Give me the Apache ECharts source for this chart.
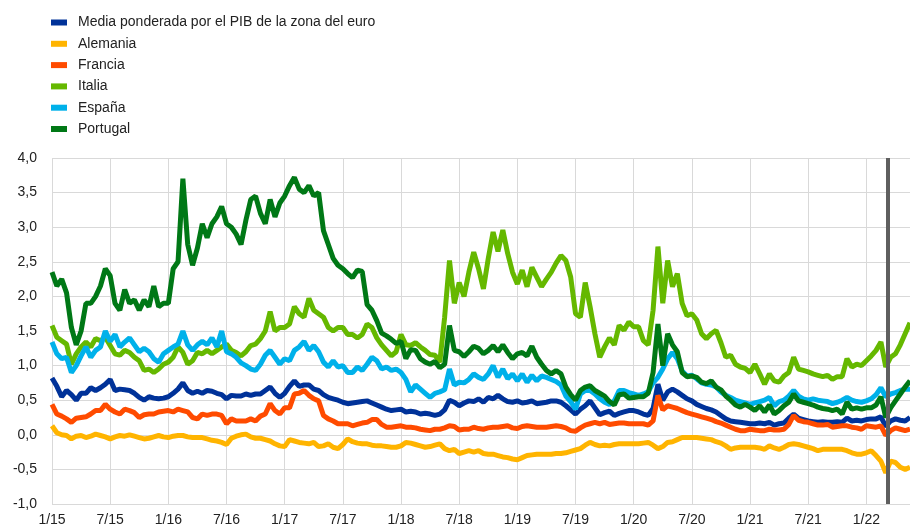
<!DOCTYPE html>
<html>
<head>
<meta charset="utf-8">
<script src="https://cdn.jsdelivr.net/npm/echarts@6/dist/echarts.min.js"></script>
<style>
  html, body { margin: 0; padding: 0; background: #fff; }
  #chart { width: 910px; height: 529px; }
</style>
</head>
<body>
<div id="chart"></div>
<script>
// fechas quincenales, 1/15 - mediados de 5/22
var dates = [];
for (var y = 2015; y <= 2022; y++) {
    for (var mo = 1; mo <= 12; mo++) {
        [1, 16].forEach(function(d) {
            var s = y + '-' + (mo < 10 ? '0' + mo : mo) + '-' + (d < 10 ? '0' + d : d);
            if (s <= '2022-05-16') dates.push(s);
        });
    }
}
var markerDate = '2022-03-08'; // linea vertical

var names = ['Media ponderada por el PIB de la zona del euro', 'Alemania', 'Francia', 'Italia', 'España', 'Portugal'];
var colors = ['#003299', '#FFB400', '#FF4B00', '#65B800', '#00B1EA', '#007816'];

var media = [
    0.82, 0.7, 0.55, 0.64, 0.58, 0.5, 0.6, 0.6, 0.68, 0.64, 0.68, 0.73, 0.8, 0.64, 0.66, 0.65, 0.64, 0.6, 0.54, 0.5, 0.55, 0.53, 0.52, 0.53,
    0.55, 0.6, 0.66, 0.75, 0.64, 0.6, 0.63, 0.6, 0.64, 0.63, 0.6, 0.58, 0.52, 0.57, 0.56, 0.56, 0.59, 0.57, 0.59, 0.59, 0.64, 0.69, 0.6, 0.54,
    0.6, 0.7, 0.78, 0.7, 0.72, 0.72, 0.66, 0.64, 0.58, 0.54, 0.52, 0.5, 0.47, 0.45, 0.46, 0.47, 0.48, 0.49, 0.46, 0.43, 0.4, 0.37, 0.35, 0.36,
    0.37, 0.33, 0.34, 0.33, 0.3, 0.31, 0.3, 0.28, 0.3, 0.36, 0.5, 0.47, 0.42, 0.46, 0.49, 0.48, 0.52, 0.47, 0.54, 0.52, 0.57, 0.52, 0.48, 0.47,
    0.49, 0.46, 0.47, 0.49, 0.45, 0.46, 0.47, 0.49, 0.49, 0.47, 0.42, 0.36, 0.3, 0.37, 0.42, 0.49, 0.39, 0.29, 0.32, 0.34, 0.28, 0.31, 0.33, 0.35,
    0.35, 0.33, 0.3, 0.28, 0.38, 0.73, 0.5, 0.62, 0.66, 0.62, 0.57, 0.52, 0.49, 0.44, 0.41, 0.38, 0.36, 0.33, 0.28, 0.23, 0.2, 0.19, 0.18, 0.17,
    0.16, 0.16, 0.17, 0.16, 0.18, 0.14, 0.16, 0.17, 0.24, 0.3, 0.24, 0.22, 0.2, 0.19, 0.18, 0.19, 0.18, 0.18, 0.19, 0.18, 0.24, 0.2, 0.21, 0.2,
    0.22, 0.23, 0.23, 0.26, 0.12, 0.2, 0.23, 0.21, 0.2, 0.25
];
var alemania = [
    0.13, 0.03, 0.0, -0.01, -0.06, -0.02, -0.01, -0.04, -0.02, 0.01, -0.01, -0.03, -0.06, -0.03, -0.01, -0.02, 0.0, -0.02, -0.04, -0.06, -0.05, -0.03, -0.01, -0.03,
    -0.04, -0.02, -0.01, -0.01, -0.03, -0.04, -0.04, -0.04, -0.06, -0.08, -0.09, -0.11, -0.14, -0.05, -0.02, 0.0, 0.01, -0.03, -0.05, -0.05, -0.07, -0.09, -0.13, -0.16,
    -0.17, -0.07, -0.09, -0.11, -0.12, -0.13, -0.11, -0.17, -0.16, -0.13, -0.18, -0.2, -0.14, -0.06, -0.1, -0.12, -0.13, -0.13, -0.15, -0.16, -0.16, -0.17, -0.18, -0.18,
    -0.16, -0.11, -0.12, -0.14, -0.16, -0.18, -0.17, -0.15, -0.13, -0.2, -0.23, -0.21, -0.27, -0.25, -0.23, -0.25, -0.23, -0.27, -0.28, -0.28, -0.3, -0.32, -0.33, -0.35,
    -0.36, -0.33, -0.3, -0.29, -0.28, -0.28, -0.28, -0.28, -0.27, -0.27, -0.26, -0.24, -0.22, -0.2, -0.15, -0.11, -0.14, -0.16, -0.15, -0.16, -0.14, -0.13, -0.13, -0.13,
    -0.13, -0.13, -0.12, -0.11, -0.15, -0.2, -0.17, -0.11, -0.1, -0.07, -0.04, -0.04, -0.04, -0.04, -0.05, -0.06, -0.07, -0.1, -0.12, -0.16, -0.21, -0.19, -0.18, -0.18,
    -0.18, -0.18, -0.19, -0.21, -0.16, -0.19, -0.21, -0.18, -0.14, -0.13, -0.14, -0.16, -0.18, -0.2, -0.23, -0.21, -0.21, -0.21, -0.21, -0.21, -0.23, -0.26, -0.28, -0.28,
    -0.26, -0.23, -0.3, -0.38, -0.55, -0.38, -0.4, -0.47, -0.5, -0.47
];
var francia = [
    0.44, 0.3, 0.27, 0.23, 0.18, 0.24, 0.25, 0.26, 0.3, 0.35, 0.35, 0.44, 0.37, 0.33, 0.3, 0.37, 0.35, 0.32, 0.25, 0.29, 0.3, 0.3, 0.33, 0.34,
    0.35, 0.33, 0.37, 0.35, 0.33, 0.25, 0.23, 0.3, 0.28, 0.3, 0.3, 0.28, 0.16, 0.23, 0.2, 0.2, 0.2, 0.23, 0.2, 0.27, 0.3, 0.45, 0.35, 0.3,
    0.39, 0.39, 0.59, 0.6, 0.64, 0.57, 0.52, 0.49, 0.28, 0.23, 0.2, 0.16, 0.16, 0.16, 0.13, 0.15, 0.17, 0.18, 0.22, 0.22, 0.15, 0.11, 0.11, 0.12,
    0.13, 0.11, 0.11, 0.1, 0.08, 0.07, 0.06, 0.08, 0.08, 0.1, 0.13, 0.12, 0.07, 0.08, 0.08, 0.11, 0.09, 0.08, 0.1, 0.11, 0.11, 0.12, 0.13, 0.1,
    0.09, 0.12, 0.13, 0.12, 0.11, 0.11, 0.11, 0.12, 0.13, 0.12, 0.1, 0.06, 0.05, 0.1, 0.14, 0.16, 0.18, 0.16, 0.18, 0.15, 0.16, 0.17, 0.17, 0.16,
    0.16, 0.16, 0.16, 0.14, 0.2, 0.57, 0.36, 0.42, 0.4, 0.38, 0.35, 0.32, 0.3, 0.28, 0.26, 0.24, 0.22, 0.19, 0.17, 0.14, 0.11, 0.08, 0.06, 0.06,
    0.08, 0.07, 0.06, 0.06, 0.08, 0.07, 0.07, 0.08, 0.15, 0.28, 0.21, 0.19, 0.18, 0.16, 0.14, 0.14, 0.15, 0.11, 0.12, 0.13, 0.13, 0.11, 0.1, 0.08,
    0.13, 0.12, 0.11, 0.13, -0.01, 0.06, 0.1, 0.08, 0.06, 0.08
];
var italia = [
    1.58, 1.41, 1.36, 1.31, 1.02, 1.17, 1.27, 1.34, 1.27, 1.39, 1.36, 1.41, 1.29, 1.17, 1.15, 1.22, 1.19, 1.12, 1.07, 0.93, 0.95, 0.9, 0.95, 1.02,
    1.05, 1.12, 1.27, 1.19, 1.02, 1.07, 1.19, 1.17, 1.22, 1.17, 1.22, 1.27, 1.31, 1.22, 1.19, 1.14, 1.2, 1.29, 1.31, 1.39, 1.5, 1.78, 1.5, 1.55,
    1.55, 1.6, 1.85, 1.75, 1.7, 1.97, 1.8, 1.75, 1.7, 1.55, 1.5, 1.55, 1.55, 1.45, 1.45, 1.4, 1.45, 1.6, 1.55, 1.4, 1.3, 1.22, 1.14, 1.2,
    1.45, 1.3, 1.29, 1.33, 1.27, 1.22, 1.16, 1.15, 1.05, 1.7, 2.52, 1.9, 2.2, 2.0, 2.35, 2.64, 2.4, 2.11, 2.55, 2.93, 2.65, 2.96, 2.62, 2.35,
    2.18, 2.38, 2.14, 2.42, 2.28, 2.14, 2.25, 2.35, 2.48, 2.59, 2.52, 2.28, 1.75, 1.7, 2.2, 1.85, 1.46, 1.12, 1.27, 1.4, 1.3, 1.58, 1.51, 1.63,
    1.56, 1.56, 1.36, 1.3, 1.8, 2.72, 1.9, 2.52, 2.14, 2.33, 1.9, 1.72, 1.75, 1.66, 1.46, 1.39, 1.46, 1.51, 1.33, 1.12, 1.15, 1.02, 0.98, 0.96,
    0.9, 1.02, 0.88, 0.73, 0.88, 0.78, 0.76, 0.85, 0.9, 1.12, 0.95, 0.93, 0.91, 0.88, 0.86, 0.84, 0.86, 0.8, 0.84, 0.84, 1.1, 0.98, 1.02, 1.0,
    1.07, 1.14, 1.22, 1.34, 0.98, 1.12, 1.17, 1.3, 1.46, 1.62
];
var espana = [
    1.34, 1.17, 1.1, 1.12, 0.9, 1.0, 1.14, 1.27, 1.12, 1.22, 1.27, 1.5, 1.35, 1.45, 1.27, 1.34, 1.4, 1.3, 1.2, 1.25, 1.2, 1.1, 1.05, 1.17,
    1.22, 1.27, 1.31, 1.5, 1.3, 1.22, 1.3, 1.35, 1.3, 1.4, 1.27, 1.5, 1.2, 1.17, 1.12, 1.04, 1.0, 0.95, 0.93, 1.02, 1.15, 1.22, 1.12, 1.02,
    1.1, 1.07, 1.22, 1.27, 1.35, 1.22, 1.29, 1.2, 1.05, 0.98, 1.07, 0.98, 1.0, 0.9, 0.9, 0.98, 0.93, 1.02, 1.12, 1.07, 0.95, 0.98, 0.93, 0.95,
    0.9, 0.8, 0.62, 0.72, 0.66, 0.6, 0.54, 0.6, 0.62, 0.65, 0.95, 0.72, 0.76, 0.75, 0.8, 0.88, 0.83, 0.8, 0.88, 1.0, 0.83, 0.95, 0.81, 0.88,
    0.78, 0.88, 0.76, 0.86, 0.78, 0.85, 0.83, 0.8, 0.77, 0.72, 0.56, 0.48, 0.37, 0.59, 0.64, 0.64, 0.59, 0.52, 0.47, 0.44, 0.49, 0.64, 0.64, 0.61,
    0.59, 0.57, 0.59, 0.62, 0.75, 0.83, 0.95, 1.1, 1.19, 1.1, 0.92, 0.85, 0.86, 0.81, 0.75, 0.73, 0.72, 0.69, 0.62, 0.57, 0.54, 0.5, 0.48, 0.46,
    0.44, 0.46, 0.48, 0.5, 0.54, 0.42, 0.48, 0.5, 0.56, 0.64, 0.56, 0.52, 0.5, 0.52, 0.5, 0.49, 0.48, 0.45, 0.47, 0.5, 0.54, 0.5, 0.48, 0.47,
    0.49, 0.52, 0.58, 0.68, 0.55, 0.59, 0.61, 0.64, 0.66, 0.66
];
var portugal = [
    2.35, 2.15, 2.25, 2.05, 1.55, 1.3, 1.5, 1.9, 1.9, 2.0, 2.15, 2.4, 2.3, 1.9, 1.8, 2.1, 1.9, 1.95, 1.8, 1.95, 1.85, 2.15, 1.85, 1.9,
    1.9, 2.4, 2.5, 3.7, 2.75, 2.45, 2.7, 3.05, 2.85, 3.05, 3.15, 3.3, 3.05, 3.0, 2.9, 2.75, 3.1, 3.4, 3.45, 3.2, 3.05, 3.4, 3.15, 3.35,
    3.45, 3.6, 3.72, 3.55, 3.5, 3.6, 3.45, 3.5, 2.95, 2.75, 2.55, 2.45, 2.4, 2.33, 2.27, 2.38, 2.36, 1.88, 1.8, 1.65, 1.47, 1.43, 1.38, 1.32,
    1.35, 1.1, 1.23, 1.22, 1.1, 1.05, 1.02, 1.06, 0.97, 1.02, 1.58, 1.22, 1.2, 1.13, 1.2, 1.28, 1.25, 1.17, 1.22, 1.29, 1.2, 1.3, 1.19, 1.1,
    1.17, 1.19, 1.14, 1.28, 1.12, 1.02, 0.93, 0.88, 0.93, 0.88, 0.69, 0.58, 0.5, 0.64, 0.69, 0.71, 0.64, 0.6, 0.56, 0.48, 0.43, 0.58, 0.59, 0.53,
    0.54, 0.55, 0.55, 0.6, 0.9, 1.6, 1.0, 1.46, 1.3, 1.2, 0.9, 0.84, 0.85, 0.83, 0.76, 0.74, 0.78, 0.69, 0.65, 0.56, 0.5, 0.43, 0.4, 0.44,
    0.4, 0.35, 0.42, 0.33, 0.43, 0.3, 0.35, 0.42, 0.47, 0.59, 0.49, 0.47, 0.45, 0.43, 0.4, 0.38, 0.37, 0.35, 0.37, 0.3, 0.47, 0.37, 0.39, 0.37,
    0.39, 0.39, 0.43, 0.55, 0.25, 0.39, 0.49, 0.59, 0.69, 0.78
];

var yTicks = { min: -1, max: 4, step: 0.5 };

// meses desde 1/15
function monthPos(s) {
    var p = s.split('-');
    return (+p[0] - 2015) * 12 + (+p[1] - 1) + (+p[2] - 1) / 30;
}
var xs = dates.map(monthPos);

function pairs(vals) {
    return vals.map(function(v, i) { return [xs[i], v]; });
}

var allData = [media, alemania, francia, italia, espana, portugal];
var series = allData.map(function(vals, i) {
    return {
        name: names[i],
        type: 'line',
        data: pairs(vals),
        symbol: 'none',
        lineStyle: { width: 5, color: colors[i] },
        itemStyle: { color: colors[i] }
    };
});
// linea vertical gris
series[0].markLine = {
    silent: true,
    symbol: ['none', 'none'],
    label: { show: false },
    lineStyle: { color: '#5f5f5f', width: 4, type: 'solid' },
    data: [{ xAxis: monthPos(markerDate) }]
};

var gridColor = '#d9d9d9';
var font = 'Liberation Sans, Arial, sans-serif';

var option = {
    animation: false,
    backgroundColor: '#fff',
    color: colors,
    legend: {
        orient: 'vertical',
        left: 51,
        top: 14.5,
        padding: 0,
        icon: 'rect',
        itemWidth: 16,
        itemHeight: 6,
        itemGap: 5.3,
        data: names,
        textStyle: {
            fontFamily: font,
            fontSize: 14,
            color: '#222',
            lineHeight: 16,
            padding: [0, 0, 0, 6]
        }
    },
    grid: { left: 52, right: 0, top: 158, bottom: 25, containLabel: false },
    xAxis: {
        type: 'value',
        min: 0,
        max: monthPos('2022-05-16'),
        interval: 6,
        axisLine: { show: false },
        axisTick: { show: false },
        splitLine: { show: true, lineStyle: { color: gridColor, width: 1 } },
        axisLabel: {
            margin: 9,
            fontFamily: font,
            fontSize: 14,
            color: '#222',
            showMaxLabel: false,
            formatter: function(v) {
                if (v % 6 !== 0) return '';
                return (v % 12 + 1) + '/' + (15 + Math.floor(v / 12));
            }
        }
    },
    yAxis: {
        type: 'value',
        min: yTicks.min,
        max: yTicks.max,
        interval: yTicks.step,
        axisLine: { show: false },
        axisTick: { show: false },
        splitLine: { show: true, lineStyle: { color: gridColor, width: 1 } },
        axisLabel: {
            margin: 15,
            fontFamily: font,
            fontSize: 14,
            color: '#222',
            formatter: function(v) { return v.toFixed(1).replace('.', ','); }
        }
    },
    series: series
};

var chart = echarts.init(document.getElementById('chart'));
chart.setOption(option);
</script>
</body>
</html>
